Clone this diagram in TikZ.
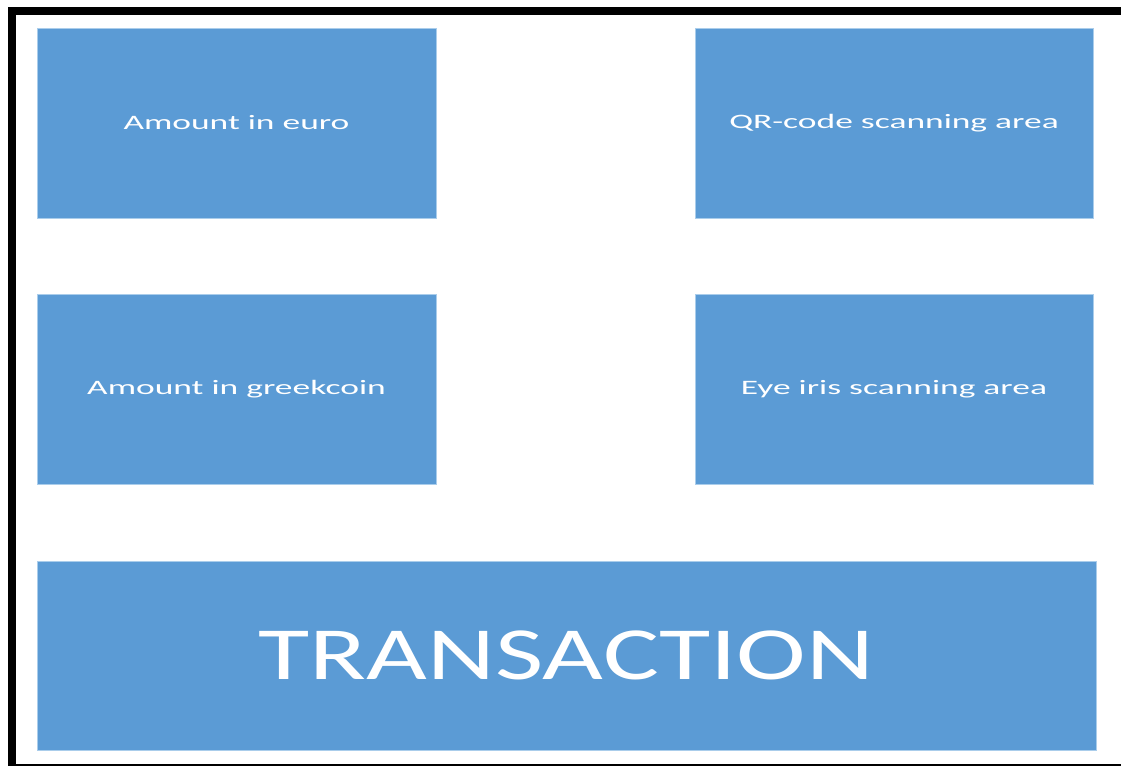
\documentclass[tikz,border=0pt]{standalone}
\usepackage{fontspec}
\setmainfont{Carlito}
\definecolor{boxblue}{RGB}{91,155,213}
\definecolor{boxedge}{RGB}{170,205,235}
\begin{document}
\begin{tikzpicture}[x=1pt,y=-1pt,
  panel/.style={fill=boxblue,draw=boxedge,line width=0.8pt,inner sep=0pt,
    minimum width=399pt,minimum height=190pt,text=white},
  small/.style={font=\fontsize{20.5}{24}\selectfont},
  big/.style={font=\fontsize{75}{80}\selectfont}]
\useasboundingbox[fill=white] (0,0) rectangle (1121,767);
% frame
\fill[black] (8,7) rectangle (1121,15);
\fill[black] (8,7) rectangle (16,766);
\fill[black] (8,764) rectangle (1121,766);
% panels
\node[panel,small] (euro) at (236.5,123) {\scalebox{1.73}[1]{Amount in euro}};
\node[panel,small,minimum width=398pt] (qr) at (894,123) {\scalebox{1.73}[1]{QR-code scanning area}};
\node[panel,small] (greek) at (236.5,389) {\scalebox{1.73}[1]{Amount in greekcoin}};
\node[panel,small,minimum width=398pt] (iris) at (894,389) {\scalebox{1.73}[1]{Eye iris scanning area}};
\node[panel,big,minimum width=1059pt,minimum height=189pt] (trans) at (566.5,655.5) {\scalebox{1.4}[1]{TRANSACTION}};
\end{tikzpicture}
\end{document}
